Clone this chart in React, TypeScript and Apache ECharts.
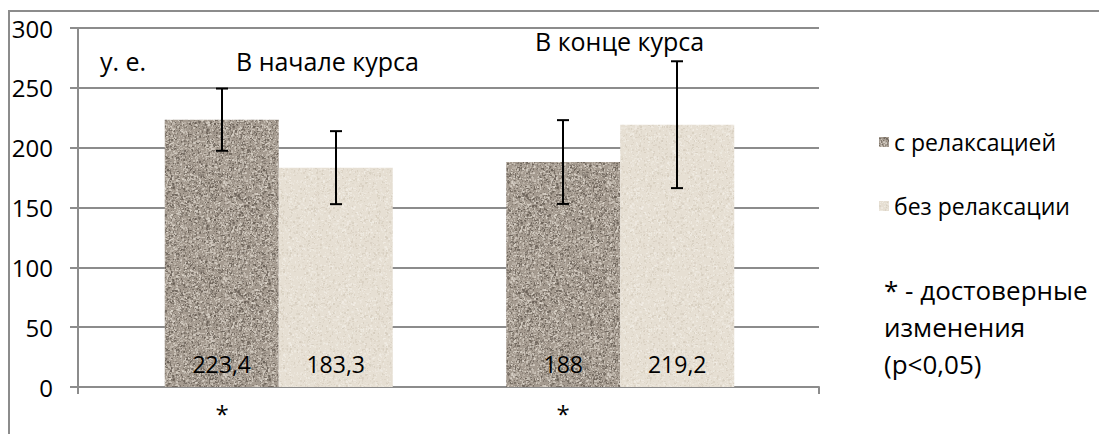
import React, { useEffect, useRef } from "react";
import * as echarts from "echarts";

const categories = ["В начале курса", "В конце курса"];
const seriesNames = ["с релаксацией", "без релаксации"];
const withRelax = [223.4, 188];
const withoutRelax = [183.3, 219.2];
const withRelaxErr = [26, 35];
const withoutRelaxErr = [30.5, 53];
const withRelaxSignificant = [true, true];
const withoutRelaxSignificant = [false, false];
const yTicks = [0, 50, 100, 150, 200, 250, 300];
const unitLabel = "у. е.";
const noteLines = ["* - достоверные", "изменения", "(p<0,05)"];

const FONT = "'Open Sans', 'Noto Sans', sans-serif";
const GRAY = "#8c8c8c";
const BAR_W = 114;

function makeTexture(base: string, light: string, dark: string, density: number, seed: number) {
  const size = 96;
  const c = document.createElement("canvas");
  c.width = size;
  c.height = size;
  const ctx = c.getContext("2d")!;
  ctx.fillStyle = base;
  ctx.fillRect(0, 0, size, size);
  let s = seed >>> 0;
  const rnd = () => {
    s = (Math.imul(s, 1103515245) + 12345) >>> 0;
    return (s & 0x7fffffff) / 0x7fffffff;
  };
  const n = Math.floor(size * size * density);
  for (let i = 0; i < n; i++) {
    const x = Math.floor(rnd() * size);
    const y = Math.floor(rnd() * size);
    ctx.globalAlpha = 0.25 + rnd() * 0.5;
    ctx.fillStyle = rnd() < 0.55 ? light : dark;
    const w = rnd() < 0.4 ? 2 : 1;
    const h = rnd() < 0.4 ? 2 : 1;
    ctx.fillRect(x, y, w, h);
  }
  ctx.globalAlpha = 1;
  return c;
}

function fmt(v: number) {
  return String(v).replace(".", ",");
}

function errorSeries(values: number[], errs: number[], sig: boolean[], side: number) {
  return {
    type: "custom",
    xAxisIndex: 1,
    yAxisIndex: 1,
    z: 10,
    silent: true,
    encode: { x: 0, y: [1, 2] },
    data: values.map((v, i) => [i, v - errs[i], v + errs[i], sig[i] ? 1 : 0]),
    renderItem: (params: any, api: any) => {
      const i = api.value(0);
      const lo = api.coord([i, api.value(1)]);
      const hi = api.coord([i, api.value(2)]);
      const base = api.coord([i, 0]);
      const x = Math.round(lo[0] + (side * BAR_W) / 2);
      const st = { stroke: "#000", lineWidth: 2 };
      const children: any[] = [
        { type: "line", shape: { x1: x, y1: lo[1], x2: x, y2: hi[1] }, style: st },
        { type: "line", shape: { x1: x - 6, y1: lo[1], x2: x + 6, y2: lo[1] }, style: st },
        { type: "line", shape: { x1: x - 6, y1: hi[1], x2: x + 6, y2: hi[1] }, style: st },
      ];
      if (api.value(3)) {
        children.push({
          type: "text",
          x: x,
          y: base[1] + 26,
          style: {
            text: "*",
            font: `24px ${FONT}`,
            fill: "#000",
            align: "center",
            verticalAlign: "middle",
            textAlign: "center",
            textVerticalAlign: "middle",
          },
        });
      }
      return { type: "group", children };
    },
  };
}

export default function App() {
  const ref = useRef<HTMLDivElement>(null);
  useEffect(() => {
    document.body.style.margin = "0";
    if (!ref.current) return;
    const chart = echarts.init(ref.current, null, { renderer: "svg" });
    const darkTex = makeTexture("#a59b90", "#ddd6cc", "#635a51", 0.42, 12345);
    const lightTex = makeTexture("#e6dfd3", "#f1ede5", "#d4cbbc", 0.22, 777);
    const darkColor: any = { image: darkTex, repeat: "repeat", imageWidth: 96, imageHeight: 96 };
    const lightColor: any = { image: lightTex, repeat: "repeat", imageWidth: 96, imageHeight: 96 };

    const yMin = yTicks[0];
    const yMax = yTicks[yTicks.length - 1];
    const yInt = yTicks[1] - yTicks[0];
    const labelCfg = {
      show: true,
      position: "insideBottom",
      distance: 12,
      color: "#000",
      fontFamily: FONT,
      fontSize: 23,
      formatter: (p: any) => fmt(p.value),
    };

    const textEl = (text: string, x: number, y: number, size: number, lh?: number) => ({
      type: "text",
      x,
      y,
      style: {
        text,
        font: `${size}px ${FONT}`,
        fill: "#000",
        lineHeight: lh,
        align: "left",
        verticalAlign: "middle",
        textAlign: "left",
        textVerticalAlign: "middle",
      },
    });

    chart.setOption({
      animation: false,
      backgroundColor: "#fff",
      grid: [
        { left: 78, right: 280, top: 28, bottom: 47 },
        { left: 108, right: 308, top: 28, bottom: 47 },
      ],
      xAxis: [
        {
          type: "value",
          gridIndex: 0,
          min: 0,
          max: 1,
          interval: 1,
          axisLine: { show: true, lineStyle: { color: GRAY, width: 2 } },
          axisTick: { show: true, length: 7, lineStyle: { color: GRAY, width: 2 } },
          axisLabel: { show: false },
          splitLine: { show: false },
        },
        { type: "category", gridIndex: 1, data: categories, show: false },
      ],
      yAxis: [
        {
          type: "value",
          gridIndex: 0,
          min: yMin,
          max: yMax,
          interval: yInt,
          axisLine: { show: true, lineStyle: { color: GRAY, width: 2 } },
          axisTick: { show: true, length: 8, lineStyle: { color: GRAY, width: 2 } },
          axisLabel: { color: "#000", fontFamily: FONT, fontSize: 24, margin: 25 },
          splitLine: { show: true, lineStyle: { color: GRAY, width: 2 } },
        },
        { type: "value", gridIndex: 1, min: yMin, max: yMax, interval: yInt, show: false, splitLine: { show: false } },
      ],
      legend: {
        orient: "vertical",
        left: 874,
        top: 125,
        padding: 5,
        itemWidth: 10,
        itemHeight: 10,
        itemGap: 40,
        icon: "rect",
        selectedMode: false,
        data: seriesNames,
        textStyle: { color: "#000", fontFamily: FONT, fontSize: 23, lineHeight: 24 },
      },
      graphic: [
        {
          type: "rect",
          shape: { x: 9, y: 11, width: 1300, height: 700 },
          style: { fill: "none", stroke: GRAY, lineWidth: 2 },
          silent: true,
          z: -1,
        },
        textEl(unitLabel, 100, 61, 25),
        textEl(categories[0], 236, 61, 25),
        textEl(categories[1], 535, 41, 25),
        textEl(noteLines.join("\n"), 884, 327, 26, 37),
      ],
      series: [
        {
          name: seriesNames[0],
          type: "bar",
          xAxisIndex: 1,
          yAxisIndex: 1,
          barWidth: BAR_W,
          barGap: "0%",
          itemStyle: { color: darkColor },
          label: labelCfg,
          data: withRelax,
        },
        {
          name: seriesNames[1],
          type: "bar",
          xAxisIndex: 1,
          yAxisIndex: 1,
          barWidth: BAR_W,
          barGap: "0%",
          itemStyle: { color: lightColor },
          label: labelCfg,
          data: withoutRelax,
        },
        errorSeries(withRelax, withRelaxErr, withRelaxSignificant, -1),
        errorSeries(withoutRelax, withoutRelaxErr, withoutRelaxSignificant, 1),
      ],
    });
    return () => chart.dispose();
  }, []);
  return <div ref={ref} style={{ width: 1099, height: 434, overflow: "hidden" }} />;
}
